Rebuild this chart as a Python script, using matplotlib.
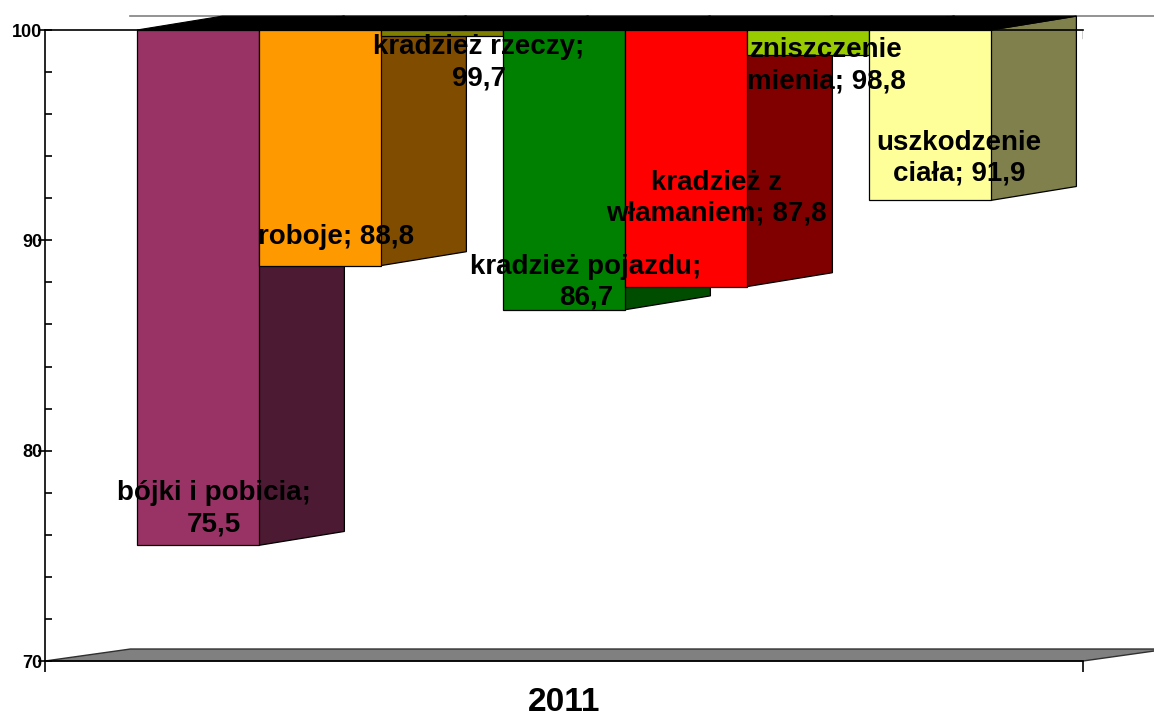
import matplotlib
matplotlib.use("Agg")
import matplotlib.pyplot as plt
from matplotlib.patches import Polygon
from matplotlib.ticker import MultipleLocator

# data (bars hang from the 100 line)
categories = ["bójki i pobicia", "roboje", "kradzież rzeczy", "kradzież pojazdu",
              "kradzież z włamaniem", "zniszczenie mienia", "uszkodzenie ciała"]
values = [75.5, 88.8, 99.7, 86.7, 87.8, 98.8, 91.9]
label_texts = ["bójki i pobicia;\n75,5", "roboje; 88,8", "kradzież rzeczy;\n99,7",
               "kradzież pojazdu;\n86,7", "kradzież z\nwłamaniem; 87,8",
               "zniszczenie\nmienia; 98,8", "uszkodzenie\nciała; 91,9"]
year = "2011"
y_ticks = [70, 80, 90, 100]

# styling / placement
FRONT = ["#993366", "#FF9900", "#808000", "#008000", "#FF0000", "#99CC00", "#FFFF99"]
SIDE = ["#4D1A33", "#804D00", "#404000", "#004D00", "#800000", "#4D6600", "#80804D"]
LABEL_POS = [(0.13, 77.25), (1.13, 90.15), (2.30, 98.45), (3.18, 88.0),
             (4.25, 92.0), (5.15, 98.3), (6.24, 93.9)]
BASE = 100
DX, DY = 0.70, 0.66      # oblique depth offset (data units)
XLIM = (-1.254, 7.254)
YLIM = (70, 100)

plt.rcParams["font.family"] = ["Liberation Sans", "DejaVu Sans"]

fig = plt.figure(figsize=(11.54, 7.16), dpi=100)
ax = fig.add_axes([45 / 1154, 55 / 716, 1038 / 1154, 631 / 716])
ax.set_xlim(*XLIM)
ax.set_ylim(*YLIM)

x = list(range(len(values)))
bars = ax.bar(x, [v - BASE for v in values], bottom=BASE, width=1.0,
              color=FRONT, edgecolor="black", linewidth=0.9, zorder=3)

for b, v, sc in zip(bars, values, SIDE):
    x0, x1 = b.get_x(), b.get_x() + b.get_width()
    side = Polygon([(x1, BASE), (x1 + DX, BASE + DY), (x1 + DX, v + DY), (x1, v)],
                   closed=True, facecolor=sc, edgecolor="black", linewidth=0.9,
                   zorder=2, clip_on=False)
    top = Polygon([(x0, BASE), (x0 + DX, BASE + DY), (x1 + DX, BASE + DY), (x1, BASE)],
                  closed=True, facecolor="black", edgecolor="black", linewidth=0.8,
                  zorder=2, clip_on=False)
    ax.add_patch(side)
    ax.add_patch(top)

# back wall top edge and floor
ax.plot([XLIM[0] + DX, XLIM[1] + DX], [BASE + DY, BASE + DY], color="#808080",
        lw=1.2, zorder=1, clip_on=False)
floor = Polygon([(XLIM[0], YLIM[0]), (XLIM[0] + DX, YLIM[0] + 0.57),
                 (XLIM[1] + DX, YLIM[0] + 0.57), (XLIM[1], YLIM[0])],
                closed=True, facecolor="#808080", edgecolor="#303030", linewidth=1.0,
                zorder=1, clip_on=False)
ax.add_patch(floor)
ax.axvline(XLIM[1], ymin=0.987, ymax=1.0, color="black", lw=1.0, zorder=1)

for (lx, ly), t in zip(LABEL_POS, label_texts):
    ax.text(lx, ly, t, ha="center", va="center", multialignment="center",
            fontsize=20, fontweight="bold", color="black", zorder=5, linespacing=1.25)

# axes
ax.spines["right"].set_visible(False)
for s in ("left", "top", "bottom"):
    ax.spines[s].set_linewidth(1.2)
    ax.spines[s].set_color("black")
ax.spines["bottom"].set_zorder(4)

ax.set_yticks(y_ticks)
ax.set_yticklabels([str(t) for t in y_ticks], fontsize=13, fontweight="bold")
ax.yaxis.set_minor_locator(MultipleLocator(2))
ax.tick_params(axis="y", which="major", direction="inout", length=10, width=1.2, pad=-3)
ax.tick_params(axis="y", which="minor", direction="in", length=5, width=1.2)

ax.set_xticks([XLIM[0], XLIM[1]])
ax.set_xticklabels(["", ""])
ax.tick_params(axis="x", which="major", direction="out", length=8, width=1.2)
ax.text(0.5, -0.065, year, transform=ax.transAxes, ha="center", va="center",
        fontsize=24, fontweight="bold")

fig.savefig("out.png", dpi=100)
